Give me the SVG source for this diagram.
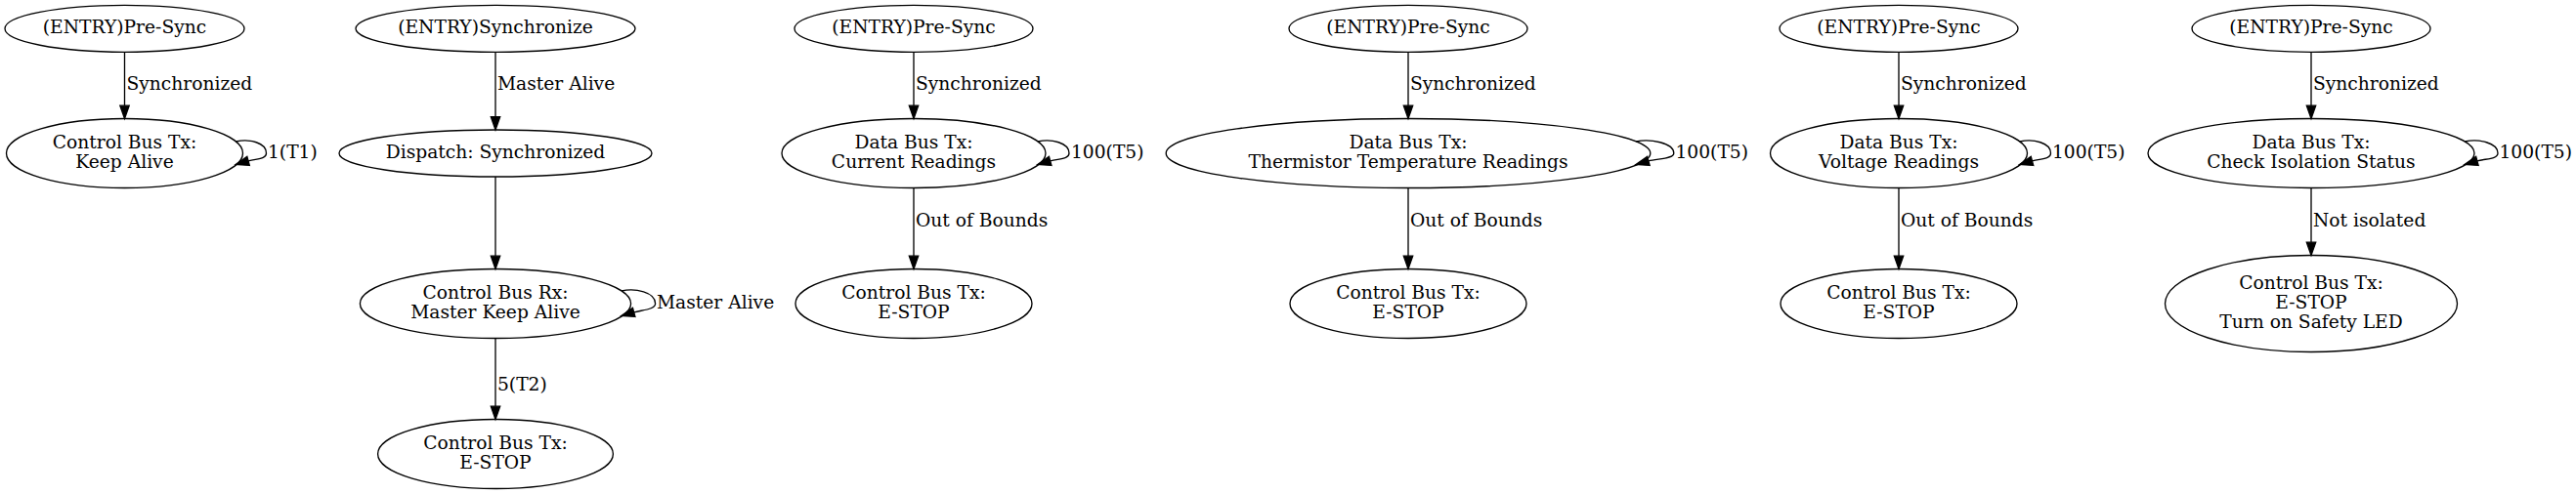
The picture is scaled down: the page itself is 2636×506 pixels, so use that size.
<svg xmlns="http://www.w3.org/2000/svg" width="2636" height="506" viewBox="0 0 2636 506">
<style>
.n ellipse{fill:none;stroke:#000;stroke-width:1.33}
text{font-family:"DejaVu Serif","Liberation Serif",serif;font-size:18.67px;fill:#000}
.n text{text-anchor:middle}
.e path{fill:none;stroke:#000;stroke-width:1.33}
.e text{text-anchor:start}
</style>
<defs>
<marker id="arr" markerUnits="userSpaceOnUse" markerWidth="14" markerHeight="10" viewBox="0 0 14 10" refX="0.5" refY="5" orient="auto" style="overflow:visible">
<path d="M0.5,0.33 L13.83,5 L0.5,9.67 Z" fill="#000" stroke="#000" stroke-width="1.33"/>
</marker>
</defs>
<rect x="0" y="0" width="2636" height="506" fill="#fff"/>

<g id="n1a" class="n"><ellipse cx="127.5" cy="29.3" rx="122.5" ry="24"/><text x="127.5" y="34.3">(ENTRY)Pre-Sync</text></g>
<g id="n1b" class="n"><ellipse cx="127.5" cy="157" rx="121" ry="35.5"/><text x="127.5" y="152">Control Bus Tx:</text><text x="127.5" y="172">Keep Alive</text></g>

<g id="n2a" class="n"><ellipse cx="507" cy="29.3" rx="143" ry="24"/><text x="507" y="34.3">(ENTRY)Synchronize</text></g>
<g id="n2b" class="n"><ellipse cx="507" cy="157" rx="160" ry="24"/><text x="507" y="162">Dispatch: Synchronized</text></g>
<g id="n2c" class="n"><ellipse cx="507" cy="311" rx="138.6" ry="35.5"/><text x="507" y="306">Control Bus Rx:</text><text x="507" y="326">Master Keep Alive</text></g>
<g id="n2d" class="n"><ellipse cx="507" cy="465" rx="120.4" ry="35.5"/><text x="507" y="460">Control Bus Tx:</text><text x="507" y="480">E-STOP</text></g>

<g id="n3a" class="n"><ellipse cx="935" cy="29.3" rx="122" ry="24"/><text x="935" y="34.3">(ENTRY)Pre-Sync</text></g>
<g id="n3b" class="n"><ellipse cx="935" cy="157" rx="135" ry="35.5"/><text x="935" y="152">Data Bus Tx:</text><text x="935" y="172">Current Readings</text></g>
<g id="n3c" class="n"><ellipse cx="935" cy="311" rx="121" ry="35.5"/><text x="935" y="306">Control Bus Tx:</text><text x="935" y="326">E-STOP</text></g>

<g id="n4a" class="n"><ellipse cx="1441" cy="29.3" rx="122" ry="24"/><text x="1441" y="34.3">(ENTRY)Pre-Sync</text></g>
<g id="n4b" class="n"><ellipse cx="1441" cy="157" rx="247.8" ry="35.5"/><text x="1441" y="152">Data Bus Tx:</text><text x="1441" y="172">Thermistor Temperature Readings</text></g>
<g id="n4c" class="n"><ellipse cx="1441" cy="311" rx="121" ry="35.5"/><text x="1441" y="306">Control Bus Tx:</text><text x="1441" y="326">E-STOP</text></g>

<g id="n5a" class="n"><ellipse cx="1943" cy="29.3" rx="122" ry="24"/><text x="1943" y="34.3">(ENTRY)Pre-Sync</text></g>
<g id="n5b" class="n"><ellipse cx="1943" cy="157" rx="131.5" ry="35.5"/><text x="1943" y="152">Data Bus Tx:</text><text x="1943" y="172">Voltage Readings</text></g>
<g id="n5c" class="n"><ellipse cx="1943" cy="311" rx="121" ry="35.5"/><text x="1943" y="306">Control Bus Tx:</text><text x="1943" y="326">E-STOP</text></g>

<g id="n6a" class="n"><ellipse cx="2365" cy="29.3" rx="122" ry="24"/><text x="2365" y="34.3">(ENTRY)Pre-Sync</text></g>
<g id="n6b" class="n"><ellipse cx="2365" cy="157" rx="167" ry="35.5"/><text x="2365" y="152">Data Bus Tx:</text><text x="2365" y="172">Check Isolation Status</text></g>
<g id="n6c" class="n"><ellipse cx="2365" cy="311" rx="149.5" ry="49.5"/><text x="2365" y="296">Control Bus Tx:</text><text x="2365" y="316">E-STOP</text><text x="2365" y="336">Turn on Safety LED</text></g>

<g id="edges" class="e">
<path d="M127.5,53.3 V108.2" marker-end="url(#arr)"/><text x="129.5" y="91.5">Synchronized</text>
<path d="M241.4,145 C255.4,142 272.5,146 272.5,157 C272.5,163 263.1,162.4 254.1,164.9" marker-end="url(#arr)"/><text x="274" y="162">1(T1)</text>

<path d="M507,53.3 V119.7" marker-end="url(#arr)"/><text x="509" y="91.5">Master Alive</text>
<path d="M507,181 V262.2" marker-end="url(#arr)"/>
<path d="M636,298 C650,295 670.6,299 670.6,311 C670.6,317 657.7,317.4 648.7,319.9" marker-end="url(#arr)"/><text x="672" y="316">Master Alive</text>
<path d="M507,346.5 V416.2" marker-end="url(#arr)"/><text x="509" y="400">5(T2)</text>

<path d="M935,53.3 V108.2" marker-end="url(#arr)"/><text x="937" y="91.5">Synchronized</text>
<path d="M1062,145 C1076,142 1094,146 1094,157 C1094,163 1083.7,162.4 1074.7,164.9" marker-end="url(#arr)"/><text x="1096" y="162">100(T5)</text>
<path d="M935,192.5 V262.2" marker-end="url(#arr)"/><text x="937" y="232">Out of Bounds</text>

<path d="M1441,53.3 V108.2" marker-end="url(#arr)"/><text x="1443" y="91.5">Synchronized</text>
<path d="M1674.2,145 C1688.2,142 1712.8,146 1712.8,157 C1712.8,163 1695.9,162.4 1686.9,164.9" marker-end="url(#arr)"/><text x="1714.5" y="162">100(T5)</text>
<path d="M1441,192.5 V262.2" marker-end="url(#arr)"/><text x="1443" y="232">Out of Bounds</text>

<path d="M1943,53.3 V108.2" marker-end="url(#arr)"/><text x="1945" y="91.5">Synchronized</text>
<path d="M2066.8,145 C2080.8,142 2098.5,146 2098.5,157 C2098.5,163 2088.5,162.4 2079.5,164.9" marker-end="url(#arr)"/><text x="2100" y="162">100(T5)</text>
<path d="M1943,192.5 V262.2" marker-end="url(#arr)"/><text x="1945" y="232">Out of Bounds</text>

<path d="M2365,53.3 V108.2" marker-end="url(#arr)"/><text x="2367" y="91.5">Synchronized</text>
<path d="M2522.2,145 C2536.2,142 2556,146 2556,157 C2556,163 2543.9,162.4 2534.9,164.9" marker-end="url(#arr)"/><text x="2557.5" y="162">100(T5)</text>
<path d="M2365,192.5 V248.2" marker-end="url(#arr)"/><text x="2367" y="232">Not isolated</text>
</g>
</svg>
